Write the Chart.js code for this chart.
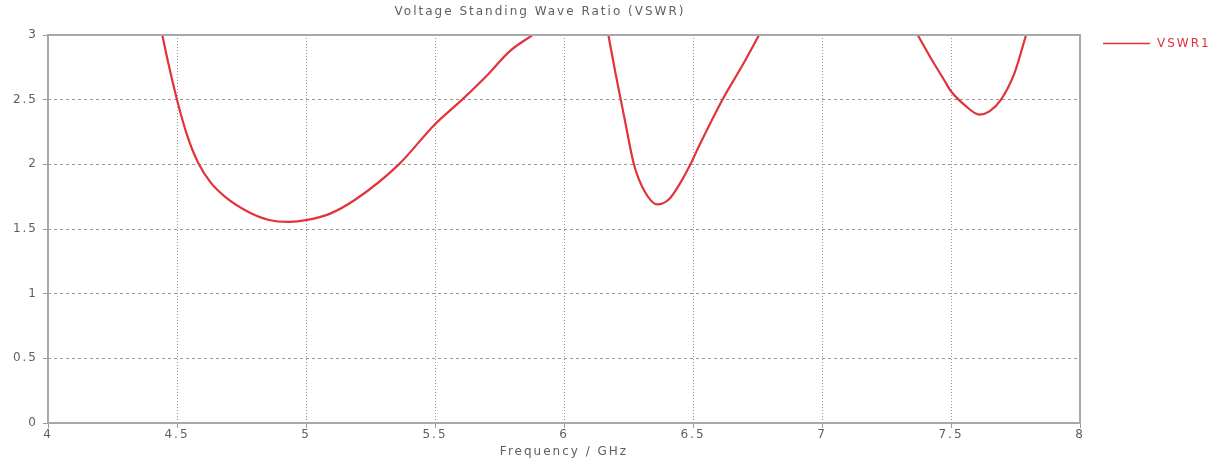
<!DOCTYPE html>
<html>
<head>
<meta charset="utf-8">
<title>VSWR</title>
<script src="https://cdn.jsdelivr.net/npm/chart.js@4/dist/chart.umd.min.js"></script>
<style>
  body { margin: 0; background: #fff; }
</style>
</head>
<body>
<canvas id="myChart" width="1220" height="464"></canvas>
<script>
// values, null = gap between the three branches
var freq = [4.443, 4.47, 4.5, 4.54, 4.58, 4.63, 4.689, 4.779, 4.857, 4.934, 5.005, 5.089, 5.193, 5.36, 5.5, 5.605, 5.71, 5.787, 5.878,
            6.0,
            6.172, 6.2, 6.235, 6.271, 6.31, 6.362, 6.407, 6.452, 6.49, 6.523, 6.614, 6.69, 6.756,
            7.0,
            7.371, 7.422, 7.474, 7.5, 7.552, 7.61, 7.649, 7.694, 7.746, 7.791];
var vswr = [3.0, 2.75, 2.5, 2.22, 2.02, 1.86, 1.745, 1.63, 1.57, 1.555, 1.57, 1.615, 1.73, 2.0, 2.31, 2.5, 2.705, 2.87, 3.0,
            null,
            3.0, 2.7, 2.35, 2.0, 1.8, 1.69, 1.73, 1.86, 2.0, 2.14, 2.5, 2.76, 3.0,
            null,
            3.0, 2.82, 2.65, 2.565, 2.46, 2.385, 2.41, 2.5, 2.705, 3.0];
var xTicks = [4, 4.5, 5, 5.5, 6, 6.5, 7, 7.5, 8];
var yTicks = [0, 0.5, 1, 1.5, 2, 2.5, 3];
var seriesName = "VSWR1";

var red = "#e2323a";
var gridGrey = "#9a9a9a";
var frameGrey = "#a8a8a8";
var textGrey = "#606060";
var fontFamily = "DejaVu Sans";

function getpoints(){
  var pts = [];
  for (var i = 0; i < freq.length; i++) {
    pts.push({ x: freq[i], y: vswr[i] });
  }
  return pts;
}

// wide lettering like the original, frame round the plot area, legend in the right margin
var framePlugin = {
  id: "frame",
  beforeDraw: function(chart){
    chart.ctx.letterSpacing = "2px";
  },
  afterDraw: function(chart){
    var a = chart.chartArea;
    var c = chart.ctx;
    c.save();
    c.strokeStyle = frameGrey;
    c.lineWidth = 2;
    c.strokeRect(a.left, a.top, a.right - a.left, a.bottom - a.top);
    // legend
    c.strokeStyle = red;
    c.lineWidth = 1.5;
    c.beginPath();
    c.moveTo(a.right + 23, 43.5);
    c.lineTo(a.right + 70, 43.5);
    c.stroke();
    c.fillStyle = red;
    c.font = "12px '" + fontFamily + "'";
    c.textBaseline = "middle";
    c.fillText(seriesName, a.right + 77, 44);
    c.restore();
  }
};

var ctx = document.getElementById("myChart").getContext("2d");
var myChart = new Chart(ctx, {
  type: "line",
  data: {
    datasets: [{
      label: seriesName,
      data: getpoints(),
      borderColor: red,
      borderWidth: 2.2,
      pointRadius: 0,
      cubicInterpolationMode: "monotone",
      spanGaps: false,
      fill: false
    }]
  },
  options: {
    responsive: false,
    animation: false,
    devicePixelRatio: 1,
    layout: { padding: { left: 0, right: 140, top: 0, bottom: 0 } },
    plugins: {
      legend: { display: false },
      tooltip: { enabled: false },
      title: {
        display: true,
        text: "Voltage Standing Wave Ratio (VSWR)",
        color: textGrey,
        font: { family: fontFamily, size: 12, weight: "normal" },
        padding: { top: 5, bottom: 15.6 }
      }
    },
    scales: {
      x: {
        type: "linear",
        min: 4,
        max: 8,
        afterBuildTicks: function(s){ s.ticks = xTicks.map(function(v){ return { value: v }; }); },
        afterFit: function(s){ s.height = 41; },
        ticks: {
          color: textGrey,
          font: { family: fontFamily, size: 12 },
          padding: 0,
          maxRotation: 0,
          autoSkip: false,
          callback: function(v){ return String(v); }
        },
        grid: {
          color: gridGrey,
          lineWidth: 1,
          tickLength: 5
        },
        border: { display: false, dash: [1, 2] },
        title: {
          display: true,
          text: "Frequency / GHz",
          color: textGrey,
          font: { family: fontFamily, size: 12 },
          padding: { top: 0, bottom: 5 }
        }
      },
      y: {
        min: 0,
        max: 3,
        afterBuildTicks: function(s){ s.ticks = yTicks.map(function(v){ return { value: v }; }); },
        afterFit: function(s){ s.width = 48; },
        ticks: {
          color: textGrey,
          font: { family: fontFamily, size: 12 },
          padding: 5,
          autoSkip: false,
          callback: function(v){ return String(v); }
        },
        grid: {
          color: gridGrey,
          lineWidth: 1,
          tickLength: 5
        },
        border: { display: false, dash: [3, 3] }
      }
    }
  },
  plugins: [framePlugin]
});
</script>
</body>
</html>
